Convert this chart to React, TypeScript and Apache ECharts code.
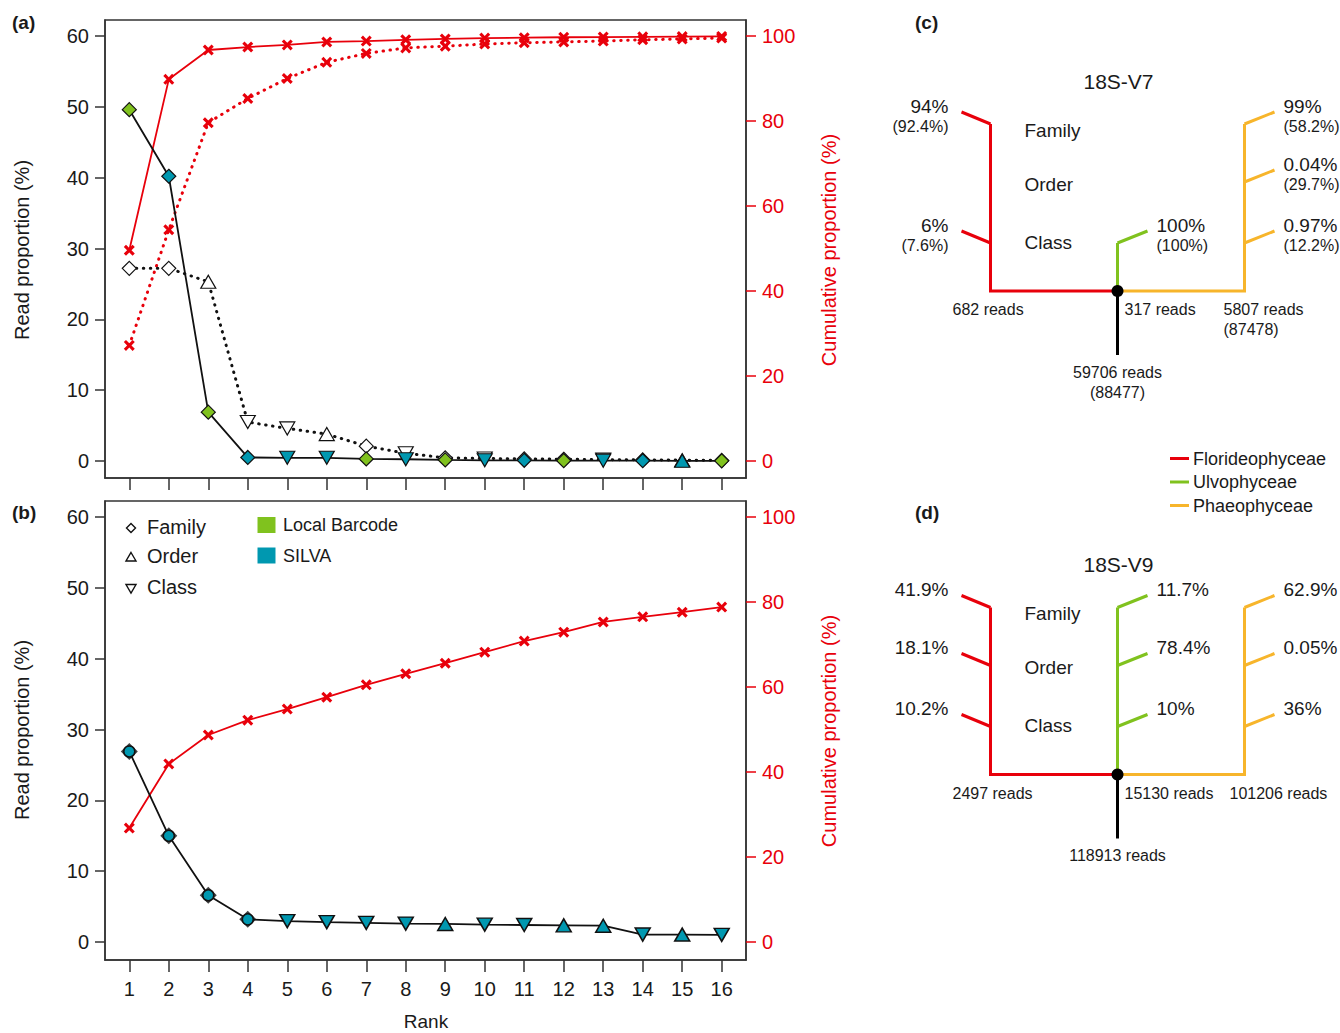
import React, { useEffect, useRef } from "react";
import * as echarts from "echarts";

// ---------- data ----------
const ranks = [1, 2, 3, 4, 5, 6, 7, 8, 9, 10, 11, 12, 13, 14, 15, 16];
const leftTicks = [0, 10, 20, 30, 40, 50, 60];
const rightTicks = [0, 20, 40, 60, 80, 100];

// panel (a)
const aSolid = [49.6, 40.2, 6.9, 0.5, 0.45, 0.45, 0.3, 0.25, 0.15, 0.1, 0.1, 0.05, 0.05, 0.04, 0.03, 0.02];
const aSolidLevel = ["F", "F", "F", "F", "C", "C", "F", "C", "F", "C", "F", "F", "C", "F", "O", "F"];
const aSolidDb = ["L", "S", "L", "S", "S", "S", "L", "S", "L", "S", "S", "L", "S", "S", "S", "L"];
const aDotted = [27.2, 27.2, 25.3, 5.5, 4.6, 3.8, 2.1, 1.1, 0.45, 0.35, 0.3, 0.25, 0.2, 0.15, 0.12, 0.08];
const aDottedLevel = ["F", "F", "O", "C", "C", "O", "F", "C", "F", "C", "F", "F", "C", "F", "O", "F"];
const aSolidCum = [49.6, 89.8, 96.7, 97.4, 97.9, 98.6, 98.8, 99.1, 99.3, 99.5, 99.6, 99.7, 99.75, 99.8, 99.85, 99.9];
const aDottedCum = [27.2, 54.4, 79.6, 85.3, 90.0, 93.8, 95.9, 97.2, 97.6, 98.1, 98.4, 98.6, 98.8, 99.1, 99.3, 99.5];

// panel (b)
const bVals = [26.9, 15.0, 6.6, 3.2, 2.95, 2.8, 2.7, 2.6, 2.55, 2.45, 2.4, 2.35, 2.3, 1.05, 1.05, 1.0];
const bLevel = ["F", "F", "F", "F", "C", "C", "C", "C", "O", "C", "C", "O", "O", "C", "O", "C"];
const bCum = [26.8, 41.9, 48.7, 52.2, 54.8, 57.6, 60.5, 63.1, 65.6, 68.2, 70.8, 72.9, 75.3, 76.5, 77.6, 78.8];

// legend texts
const levelNames = ["Family", "Order", "Class"];
const dbNames = ["Local Barcode", "SILVA"];
const groupNames = ["Florideophyceae", "Ulvophyceae", "Phaeophyceae"];

// trees (c) and (d): labels per level [Family, Order, Class]
const cTitle = "18S-V7";
const cRed = ["94%", "", "6%"];
const cRedSub = ["(92.4%)", "", "(7.6%)"];
const cGreen = ["", "", "100%"];
const cGreenSub = ["", "", "(100%)"];
const cOrange = ["99%", "0.04%", "0.97%"];
const cOrangeSub = ["(58.2%)", "(29.7%)", "(12.2%)"];
const cReads = ["682 reads", "317 reads", "5807 reads", "59706 reads"];
const cReadsSub = ["", "", "(87478)", "(88477)"];

const dTitle = "18S-V9";
const dRed = ["41.9%", "18.1%", "10.2%"];
const dGreen = ["11.7%", "78.4%", "10%"];
const dOrange = ["62.9%", "0.05%", "36%"];
const dReads = ["2497 reads", "15130 reads", "101206 reads", "118913 reads"];
const dReadsSub = ["", "", "", ""];

// ---------- styles ----------
const FONT = "'Liberation Sans', Arial, Helvetica, sans-serif";
const INK = "#1a1a1a";
const RED = "#E8000B";
const GREEN = "#80C21E";
const TEAL = "#0098B0";
const ORANGE = "#F7B52B";
const XPATH = "path://M2,0L5,3L8,0L10,2L7,5L10,8L8,10L5,7L2,10L0,8L3,5L0,2Z";

function levelSymbol(code: string) {
  if (code === "F") return { symbol: "diamond", symbolRotate: 0, symbolSize: [14, 14] };
  if (code === "O") return { symbol: "triangle", symbolRotate: 0, symbolSize: [15, 13] };
  return { symbol: "triangle", symbolRotate: 180, symbolSize: [15, 13] };
}

function txt(x: number, y: number, text: string, size: number, align: string, extra: any = {}) {
  return {
    type: "text",
    x,
    y,
    silent: true,
    ...extra,
    style: {
      text,
      fontSize: size,
      fontFamily: FONT,
      fill: extra.fill || INK,
      fontWeight: extra.fontWeight || "normal",
      align,
      textAlign: align,
      verticalAlign: "middle",
      textVerticalAlign: "middle",
    },
  };
}

function seg(points: number[][], color: string, w = 3) {
  return {
    type: "polyline",
    silent: true,
    shape: { points },
    style: { stroke: color, lineWidth: w, fill: null, lineJoin: "miter" },
  };
}

const LV = [-167, -109, -48];
const NAME_LV = [-161, -107, -49];

function tree(
  dx: number,
  dy: number,
  title: string,
  red: string[],
  redSub: string[],
  green: string[],
  greenSub: string[],
  orange: string[],
  orangeSub: string[],
  reads: string[],
  readsSub: string[],
  orangeReadsDx: number
) {
  const els: any[] = [];
  const rx = dx - 127;
  const ox = dx + 127;
  // red
  els.push(seg([[dx, dy], [rx, dy], [rx, dy + LV[0]]], RED));
  red.forEach((t, i) => {
    if (!t) return;
    els.push(seg([[rx, dy + LV[i]], [rx - 29, dy + LV[i] - 12]], RED));
    els.push(txt(dx - 169, dy + LV[i] - 18, t, 19, "right"));
    if (redSub[i]) els.push(txt(dx - 169, dy + LV[i] + 2.5, redSub[i], 16, "right"));
  });
  // green
  let gTop = 0;
  green.forEach((t, i) => {
    if (t && LV[i] < gTop) gTop = LV[i];
  });
  els.push(seg([[dx, dy], [dx, dy + gTop]], GREEN));
  green.forEach((t, i) => {
    if (!t) return;
    els.push(seg([[dx, dy + LV[i]], [dx + 30, dy + LV[i] - 12]], GREEN));
    els.push(txt(dx + 39, dy + LV[i] - 18, t, 19, "left"));
    if (greenSub[i]) els.push(txt(dx + 39, dy + LV[i] + 2.5, greenSub[i], 16, "left"));
  });
  // orange
  els.push(seg([[dx, dy], [ox, dy], [ox, dy + LV[0]]], ORANGE));
  orange.forEach((t, i) => {
    if (!t) return;
    els.push(seg([[ox, dy + LV[i]], [ox + 30, dy + LV[i] - 12]], ORANGE));
    els.push(txt(dx + 166, dy + LV[i] - 18, t, 19, "left"));
    if (orangeSub[i]) els.push(txt(dx + 166, dy + LV[i] + 2.5, orangeSub[i], 16, "left"));
  });
  // black
  els.push(seg([[dx, dy], [dx, dy + 64]], "#000"));
  els.push({ type: "circle", silent: true, shape: { cx: dx, cy: dy, r: 6 }, style: { fill: "#000" } });
  // level names
  levelNames.forEach((n, i) => els.push(txt(dx - 93, dy + NAME_LV[i], n, 19, "left")));
  // title
  els.push(txt(dx + 1, dy - 210, title, 21, "center"));
  // reads
  els.push(txt(dx - 165, dy + 18.5, reads[0], 16, "left"));
  els.push(txt(dx + 7, dy + 18.5, reads[1], 16, "left"));
  els.push(txt(dx + orangeReadsDx, dy + 18.5, reads[2], 16, "left"));
  if (readsSub[2]) els.push(txt(dx + orangeReadsDx, dy + 38.5, readsSub[2], 16, "left"));
  els.push(txt(dx, dy + 81, reads[3], 16, "center"));
  if (readsSub[3]) els.push(txt(dx, dy + 101, readsSub[3], 16, "center"));
  return els;
}

function xAxisCfg(gridIndex: number, showLabels: boolean) {
  return {
    type: "value",
    gridIndex,
    position: "bottom",
    min: 0.385,
    max: 16.615,
    axisLine: { show: true, onZero: false, lineStyle: { color: "#333", width: 1.5 } },
    axisTick: { show: true, inside: false, length: 12, customValues: ranks, lineStyle: { color: "#333", width: 1.5 } },
    axisLabel: { show: showLabels, customValues: ranks, fontSize: 20, fontFamily: FONT, color: INK, margin: 19 },
    splitLine: { show: false },
  };
}

function yLeftCfg(gridIndex: number, min: number, max: number) {
  return {
    type: "value",
    gridIndex,
    position: "left",
    min,
    max,
    axisLine: { show: true, onZero: false, lineStyle: { color: "#333", width: 1.5 } },
    axisTick: { show: true, inside: false, length: 10, customValues: leftTicks, lineStyle: { color: "#333", width: 1.5 } },
    axisLabel: { show: true, customValues: leftTicks, fontSize: 20, fontFamily: FONT, color: INK, margin: 16 },
    splitLine: { show: false },
  };
}

function yRightCfg(gridIndex: number, min: number, max: number) {
  return {
    type: "value",
    gridIndex,
    position: "right",
    min,
    max,
    axisLine: { show: true, onZero: false, lineStyle: { color: "#333", width: 1.5 } },
    axisTick: { show: true, inside: false, length: 10, customValues: rightTicks, lineStyle: { color: RED, width: 1.5 } },
    axisLabel: { show: true, customValues: rightTicks, fontSize: 20, fontFamily: FONT, color: RED, margin: 16 },
    splitLine: { show: false },
  };
}

function buildOption() {
  const dottedLine = (color: string) => ({ color, width: 3, type: [0.5, 6.5], cap: "round" });

  const series: any[] = [
    // panel (a)
    {
      type: "line",
      xAxisIndex: 0,
      yAxisIndex: 1,
      data: ranks.map((r, i) => [r, aDottedCum[i]]),
      symbol: XPATH,
      symbolSize: 11,
      itemStyle: { color: RED },
      lineStyle: dottedLine(RED),
      z: 2,
    },
    {
      type: "line",
      xAxisIndex: 0,
      yAxisIndex: 1,
      data: ranks.map((r, i) => [r, aSolidCum[i]]),
      symbol: XPATH,
      symbolSize: 11,
      itemStyle: { color: RED },
      lineStyle: { color: RED, width: 1.8 },
      z: 2,
    },
    {
      type: "line",
      xAxisIndex: 0,
      yAxisIndex: 0,
      data: ranks.map((r, i) => ({ value: [r, aDotted[i]], ...levelSymbol(aDottedLevel[i]) })),
      itemStyle: { color: "#fff", borderColor: "#111", borderWidth: 1.2 },
      lineStyle: dottedLine("#111"),
      z: 3,
    },
    {
      type: "line",
      xAxisIndex: 0,
      yAxisIndex: 0,
      data: ranks.map((r, i) => ({
        value: [r, aSolid[i]],
        ...levelSymbol(aSolidLevel[i]),
        itemStyle: { color: aSolidDb[i] === "L" ? GREEN : TEAL, borderColor: "#111", borderWidth: 1.2 },
      })),
      lineStyle: { color: "#111", width: 1.8 },
      z: 4,
    },
    // panel (b)
    {
      type: "line",
      xAxisIndex: 1,
      yAxisIndex: 3,
      data: ranks.map((r, i) => [r, bCum[i]]),
      symbol: XPATH,
      symbolSize: 11,
      itemStyle: { color: RED },
      lineStyle: { color: RED, width: 1.8 },
      z: 2,
    },
    {
      type: "scatter",
      xAxisIndex: 1,
      yAxisIndex: 2,
      data: ranks.map((r, i) => [r, bVals[i]]).filter((_, i) => bLevel[i] === "F"),
      symbol: "diamond",
      symbolSize: 17,
      itemStyle: { color: "#111" },
      z: 3,
    },
    {
      type: "line",
      xAxisIndex: 1,
      yAxisIndex: 2,
      data: ranks.map((r, i) => {
        if (bLevel[i] === "F") return { value: [r, bVals[i]], symbol: "circle", symbolSize: 11 };
        return { value: [r, bVals[i]], ...levelSymbol(bLevel[i]) };
      }),
      itemStyle: { color: TEAL, borderColor: "#111", borderWidth: 1.5 },
      lineStyle: { color: "#111", width: 1.8 },
      z: 4,
    },
  ];

  const graphic: any[] = [];
  // panel letters
  graphic.push(txt(12, 22, "(a)", 19, "left", { fontWeight: "bold" }));
  graphic.push(txt(12, 512, "(b)", 19, "left", { fontWeight: "bold" }));
  graphic.push(txt(915, 22, "(c)", 19, "left", { fontWeight: "bold" }));
  graphic.push(txt(915, 512, "(d)", 19, "left", { fontWeight: "bold" }));
  // axis names
  graphic.push(txt(22, 250, "Read proportion (%)", 20, "center", { rotation: Math.PI / 2 }));
  graphic.push(txt(22, 730, "Read proportion (%)", 20, "center", { rotation: Math.PI / 2 }));
  graphic.push(txt(829, 250, "Cumulative proportion (%)", 20, "center", { rotation: Math.PI / 2, fill: RED }));
  graphic.push(txt(829, 731, "Cumulative proportion (%)", 20, "center", { rotation: Math.PI / 2, fill: RED }));
  graphic.push(txt(426, 1021, "Rank", 19, "center"));

  // legend in panel (b)
  const lx = 131;
  const ly = [528, 557, 588];
  const shapes = [
    [[lx, ly[0] - 4.5], [lx + 4.5, ly[0]], [lx, ly[0] + 4.5], [lx - 4.5, ly[0]]],
    [[lx, ly[1] - 4.5], [lx + 5, ly[1] + 4], [lx - 5, ly[1] + 4]],
    [[lx - 5, ly[2] - 3.5], [lx + 5, ly[2] - 3.5], [lx, ly[2] + 5]],
  ];
  levelNames.forEach((n, i) => {
    graphic.push({
      type: "polygon",
      silent: true,
      shape: { points: shapes[i] },
      style: { fill: "#fff", stroke: "#111", lineWidth: 1.4 },
    });
    graphic.push(txt(147, ly[i] - 1, n, 20, "left"));
  });
  const dbColors = [GREEN, TEAL];
  dbNames.forEach((n, i) => {
    const cy = 525 + i * 30.5;
    graphic.push({
      type: "rect",
      silent: true,
      shape: { x: 257.5, y: cy - 8, width: 18, height: 16 },
      style: { fill: dbColors[i] },
    });
    graphic.push(txt(283, cy, n, 18, "left"));
  });

  // group legend
  const gColors = [RED, GREEN, ORANGE];
  groupNames.forEach((n, i) => {
    const cy = 458.5 + i * 23.5;
    graphic.push({
      type: "line",
      silent: true,
      shape: { x1: 1170, y1: cy, x2: 1189, y2: cy },
      style: { stroke: gColors[i], lineWidth: 3 },
    });
    graphic.push(txt(1193, cy, n, 18, "left"));
  });

  // trees
  graphic.push(
    ...tree(1117.5, 291, cTitle, cRed, cRedSub, cGreen, cGreenSub, cOrange, cOrangeSub, cReads, cReadsSub, 106)
  );
  graphic.push(
    ...tree(
      1117.5,
      774.5,
      dTitle,
      dRed,
      ["", "", ""],
      dGreen,
      ["", "", ""],
      dOrange,
      ["", "", ""],
      dReads,
      dReadsSub,
      112
    )
  );

  return {
    animation: false,
    backgroundColor: "#fff",
    textStyle: { fontFamily: FONT },
    grid: [
      { left: 105, top: 20, width: 641, height: 458, show: true, borderColor: "#333", borderWidth: 1.5, containLabel: false },
      { left: 105, top: 501, width: 641, height: 459, show: true, borderColor: "#333", borderWidth: 1.5, containLabel: false },
    ],
    xAxis: [xAxisCfg(0, false), xAxisCfg(1, true)],
    yAxis: [
      yLeftCfg(0, -2.4, 62.26),
      yRightCfg(0, -4.0, 103.76),
      yLeftCfg(1, -2.54, 62.26),
      yRightCfg(1, -4.24, 103.76),
    ],
    series,
    graphic,
  };
}

export default function App() {
  const ref = useRef<HTMLDivElement>(null);
  useEffect(() => {
    if (!ref.current) return;
    const chart = echarts.init(ref.current, undefined, { renderer: "svg" });
    chart.setOption(buildOption() as any);
    return () => chart.dispose();
  }, []);
  return (
    <div
      ref={ref}
      style={{ position: "absolute", left: 0, top: 0, width: 1340, height: 1033, background: "#fff" }}
    />
  );
}
